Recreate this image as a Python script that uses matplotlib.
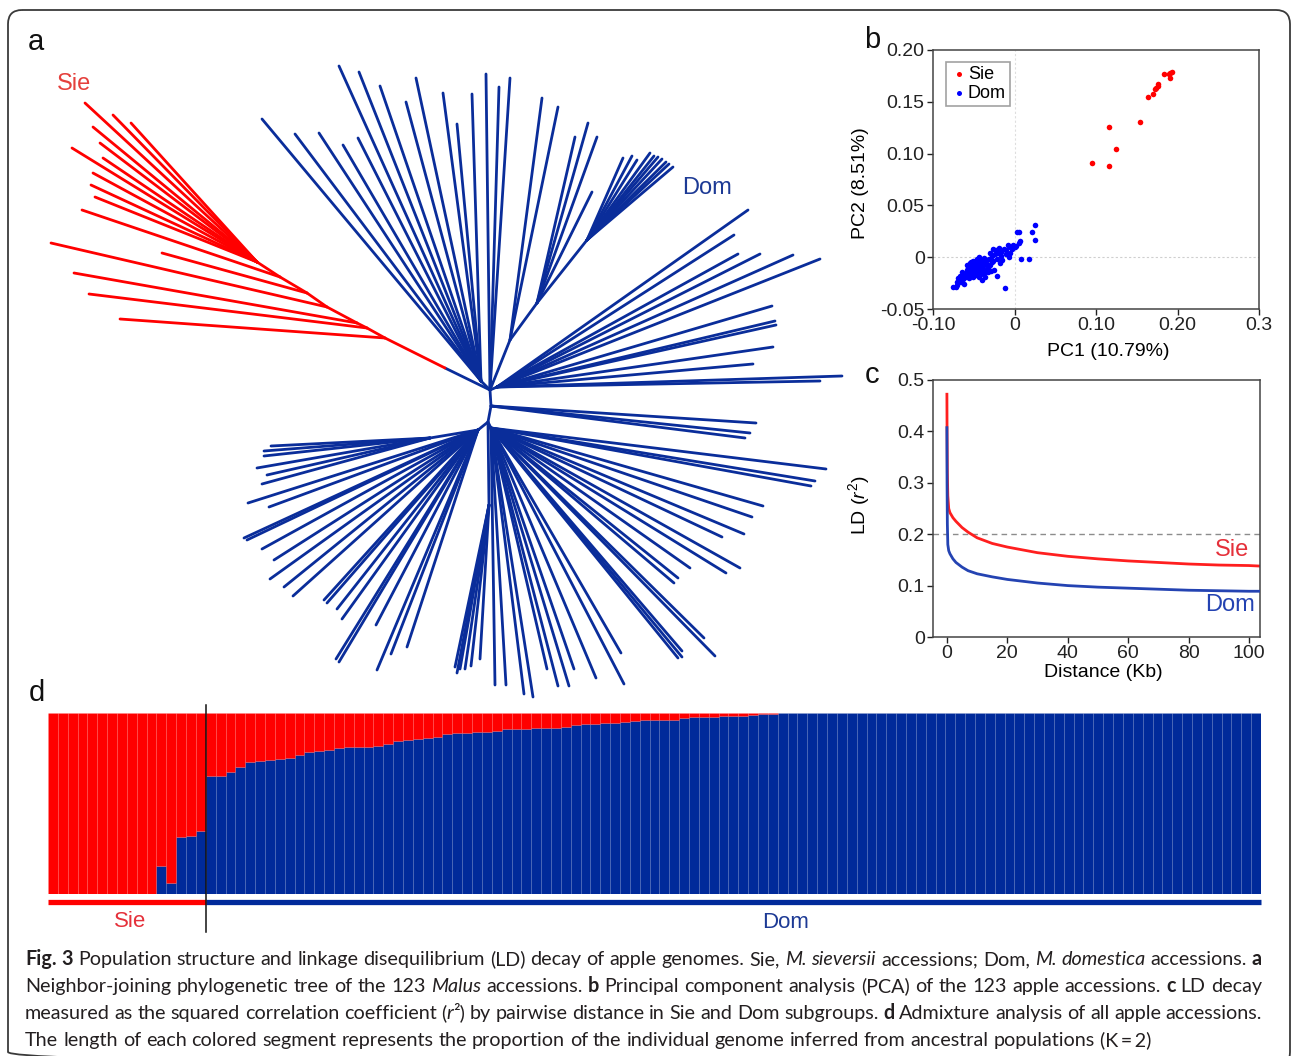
import numpy as np
import matplotlib
matplotlib.use('Agg')
import matplotlib.pyplot as plt
from matplotlib.collections import LineCollection
from matplotlib.patches import FancyBboxPatch

# ---------------- DATA ----------------
# (a) neighbour-joining tree (layout coordinates of the drawn tree)
TREE_NODES = [  # name, x, y, parent, group
    ('U', 490, 390, None, 'dom'),
    ('Mid', 491, 406, 'U', 'dom'),
    ('L', 488, 422, 'Mid', 'dom'),
    ('r0', 445, 368, 'U', 'dom'),
    ('r1', 385, 338, 'r0', 'sie'),
    ('r2', 367, 328, 'r1', 'sie'),
    ('r3', 357, 323, 'r2', 'sie'),
    ('r4', 327, 307, 'r3', 'sie'),
    ('r5', 307, 293, 'r4', 'sie'),
    ('r6', 280, 277, 'r5', 'sie'),
    ('r7', 257, 262, 'r6', 'sie'),
    ('bUL', 481, 381, 'U', 'dom'),
    ('bM1', 510, 340, 'U', 'dom'),
    ('bM2', 537, 303, 'bM1', 'dom'),
    ('bF', 587, 240, 'bM2', 'dom'),
    ('bR', 497, 387, 'U', 'dom'),
    ('bLR', 491, 428, 'L', 'dom'),
    ('bMD', 489, 505, 'L', 'dom'),
    ('bLL', 478, 430, 'L', 'dom'),
    ('bLL1', 430, 438, 'bLL', 'dom'),
]
SIE_TIPS = [
    (120, 319, 'r1'), (89, 294, 'r2'), (74, 273, 'r3'), (51, 243, 'r4'),
    (162, 253, 'r5'), (82, 210, 'r6'),
    (85, 103, 'r7'), (113, 115, 'r7'), (131, 123, 'r7'), (93, 127, 'r7'),
    (100, 143, 'r7'), (72, 148, 'r7'), (103, 158, 'r7'), (93, 173, 'r7'),
    (91, 185, 'r7'), (95, 197, 'r7'),
]
DOM_TIPS = [
    (262, 119, 'bUL'), (339, 66, 'bUL'), (359, 72, 'bUL'), (380, 86, 'bUL'),
    (416, 78, 'bUL'), (406, 102, 'bUL'), (443, 93, 'bUL'), (457, 124, 'bUL'),
    (472, 94, 'bUL'), (295, 134, 'bUL'), (319, 133, 'bUL'), (343, 145, 'bUL'),
    (358, 138, 'bUL'),
    (486, 74, 'U'), (499, 87, 'U'), (510, 78, 'U'),
    (542, 98, 'bM1'), (558, 107, 'bM1'),
    (575, 137, 'bM2'), (588, 123, 'bM2'), (597, 137, 'bM2'), (592, 192, 'bM2'),
    (623, 158, 'bF'), (632, 156, 'bF'), (637, 160, 'bF'), (650, 153, 'bF'),
    (654, 156, 'bF'), (658, 157, 'bF'), (662, 159, 'bF'), (666, 162, 'bF'),
    (669, 164, 'bF'), (673, 167, 'bF'),
    (748, 210, 'bR'), (734, 235, 'bR'), (738, 254, 'bR'), (760, 254, 'bR'),
    (793, 255, 'bR'), (820, 259, 'bR'), (772, 306, 'bR'), (775, 321, 'bR'),
    (776, 325, 'bR'), (773, 347, 'bR'), (753, 364, 'bR'), (842, 376, 'bR'),
    (820, 381, 'bR'),
    (756, 423, 'Mid'), (750, 433, 'Mid'), (745, 438, 'Mid'),
    (826, 469, 'bLR'), (815, 481, 'bLR'), (811, 486, 'bLR'), (763, 506, 'bLR'),
    (752, 517, 'bLR'), (744, 534, 'bLR'), (722, 537, 'bLR'), (740, 568, 'bLR'),
    (726, 573, 'bLR'), (690, 568, 'bLR'), (678, 578, 'bLR'), (674, 583, 'bLR'),
    (704, 638, 'bLR'), (715, 656, 'bLR'), (682, 651, 'bLR'), (682, 657, 'bLR'),
    (678, 658, 'bLR'), (621, 653, 'bLR'), (624, 684, 'bLR'), (596, 678, 'bLR'),
    (574, 669, 'bLR'), (569, 686, 'bLR'), (558, 686, 'bLR'), (547, 669, 'bLR'),
    (533, 697, 'bLR'), (524, 694, 'bLR'), (506, 685, 'bLR'), (495, 685, 'bLR'),
    (480, 659, 'bMD'), (471, 666, 'bMD'), (465, 669, 'bMD'), (460, 669, 'bMD'),
    (457, 673, 'bMD'), (455, 667, 'bMD'),
    (407, 647, 'bLL'), (391, 654, 'bLL'), (377, 670, 'bLL'), (376, 625, 'bLL'),
    (342, 619, 'bLL'), (337, 609, 'bLL'), (327, 603, 'bLL'), (324, 600, 'bLL'),
    (339, 662, 'bLL'), (336, 659, 'bLL'), (293, 596, 'bLL'), (284, 587, 'bLL'),
    (270, 579, 'bLL'), (274, 560, 'bLL'), (262, 549, 'bLL'), (247, 540, 'bLL'),
    (244, 538, 'bLL'), (269, 507, 'bLL'), (248, 503, 'bLL'),
    (262, 484, 'bLL1'), (267, 475, 'bLL1'), (257, 468, 'bLL1'), (264, 456, 'bLL1'),
    (264, 451, 'bLL1'), (271, 446, 'bLL1'),
]

# (b) PCA
SIE_PC1 = [0.0945, 0.1154, 0.1154, 0.1244, 0.1544, 0.1638, 0.1696, 0.1728,
           0.1737, 0.1757, 0.1765, 0.1839, 0.1893, 0.1913, 0.1910, 0.1934]
SIE_PC2 = [0.0907, 0.0882, 0.1261, 0.1049, 0.1309, 0.1550, 0.1573, 0.1621,
           0.1630, 0.1656, 0.1672, 0.1765, 0.1765, 0.1733, 0.1780, 0.1785]
DOM_PC1 = [-0.075, -0.072, -0.070, -0.071, -0.068, -0.066, -0.065, -0.067, -0.063, -0.062,
           -0.064, -0.060, -0.060, -0.058, -0.058, -0.057, -0.056, -0.055, -0.055, -0.054,
           -0.053, -0.053, -0.052, -0.052, -0.051, -0.050, -0.050, -0.049, -0.049, -0.048,
           -0.048, -0.047, -0.047, -0.046, -0.046, -0.045, -0.045, -0.044, -0.044, -0.043,
           -0.043, -0.042, -0.042, -0.041, -0.040, -0.040, -0.039, -0.038, -0.038, -0.037,
           -0.036, -0.035, -0.034, -0.033, -0.032, -0.031, -0.030, -0.030, -0.028, -0.027,
           -0.026, -0.025, -0.024, -0.023, -0.022, -0.021, -0.020, -0.019, -0.018, -0.017,
           -0.016, -0.015, -0.013, -0.012, -0.011, -0.010, -0.008, -0.007, -0.006, -0.005,
           -0.003, -0.002, 0.000, 0.002, 0.003, 0.005, 0.006, 0.007, 0.008, 0.018,
           0.021, 0.025, 0.025, -0.058, -0.056, -0.062, -0.069, -0.054, -0.051, -0.047,
           -0.041, -0.036, -0.033, -0.029, -0.026, -0.044, -0.039]
DOM_PC2 = [-0.029, -0.029, -0.027, -0.024, -0.022, -0.024, -0.020, -0.018, -0.021, -0.017,
           -0.014, -0.019, -0.015, -0.012, -0.017, -0.010, -0.014, -0.008, -0.012, -0.016,
           -0.005, -0.010, -0.013, -0.007, -0.004, -0.010, -0.015, -0.007, -0.012, -0.004,
           -0.009, -0.013, -0.006, -0.002, -0.010, -0.007, -0.015, -0.004, -0.011, -0.008,
           -0.019, -0.003, -0.013, -0.006, -0.010, -0.022, -0.004, -0.008, -0.015, -0.001,
           -0.006, -0.012, -0.003, -0.008, -0.014, -0.002, 0.004, -0.008, 0.001, -0.005,
           0.008, -0.012, 0.003, 0.007, -0.002, -0.018, 0.004, 0.009, -0.006, 0.001,
           0.005, -0.003, 0.008, -0.030, 0.003, 0.007, 0.012, 0.000, 0.010, 0.004,
           0.008, 0.012, 0.010, 0.011, 0.024, 0.014, 0.024, 0.016, -0.002, -0.002,
           0.024, 0.031, 0.017, -0.008, -0.020, -0.026, -0.020, -0.006, -0.019, -0.017,
           -0.016, -0.019, -0.010, -0.013, -0.004, 0.000, -0.012]
PCA_XTICKS = [-0.10, 0.0, 0.10, 0.20, 0.30]
PCA_XTICKLABELS = ['-0.10', '0', '0.10', '0.20', '0.3']
PCA_YTICKS = [-0.05, 0.0, 0.05, 0.10, 0.15, 0.20]
PCA_YTICKLABELS = ['-0.05', '0', '0.05', '0.10', '0.15', '0.20']

# (c) LD decay
SIE_DIST = [0, 0.05, 0.15, 0.3, 0.6, 1, 2, 3, 5, 7, 10, 15, 20, 30, 40, 50, 60, 70, 80, 90, 100, 103.6]
SIE_R2 = [0.475, 0.40, 0.32, 0.275, 0.25, 0.242, 0.232, 0.225, 0.213, 0.204, 0.193, 0.182,
          0.175, 0.164, 0.157, 0.152, 0.148, 0.145, 0.142, 0.140, 0.139, 0.138]
DOM_DIST = [0, 0.05, 0.15, 0.3, 0.6, 1, 2, 3, 5, 7, 10, 15, 20, 30, 40, 50, 60, 70, 80, 90, 100, 103.6]
DOM_R2 = [0.41, 0.30, 0.22, 0.18, 0.168, 0.162, 0.152, 0.145, 0.136, 0.129, 0.123, 0.117,
          0.112, 0.105, 0.100, 0.097, 0.095, 0.093, 0.091, 0.090, 0.089, 0.089]
LD_XTICKS = [0, 20, 40, 60, 80, 100]
LD_YTICKS = [0, 0.1, 0.2, 0.3, 0.4, 0.5]
LD_YTICKLABELS = ['0', '0.1', '0.2', '0.3', '0.4', '0.5']

# (d) admixture: Dom ancestry proportion for the 123 accessions (16 Sie + 107 Dom)
N_SIE = 16
DOM_ANCESTRY = [
    0, 0, 0, 0, 0, 0, 0, 0, 0, 0, 0, 0.157, 0.063, 0.317, 0.323, 0.349,
    0.653, 0.653, 0.672, 0.701, 0.732, 0.736, 0.742, 0.745, 0.749, 0.768,
    0.784, 0.788, 0.797, 0.806, 0.810, 0.812, 0.812, 0.819, 0.828, 0.845,
    0.851, 0.858, 0.862, 0.867, 0.882, 0.887, 0.887, 0.895, 0.897, 0.900,
    0.910, 0.911, 0.913, 0.915, 0.917, 0.919, 0.922, 0.934, 0.939, 0.939,
    0.945, 0.946, 0.952, 0.958, 0.961, 0.961, 0.963, 0.963, 0.970, 0.976,
    0.978, 0.980, 0.983, 0.983, 0.985, 0.991, 0.993, 0.994, 0.998,
    1.0, 1.0, 1.0, 1.0, 1.0, 1.0, 1.0, 1.0, 1.0, 1.0, 1.0, 1.0,
    1.0, 1.0, 1.0, 1.0, 1.0, 1.0, 1.0, 1.0, 1.0, 1.0, 1.0, 1.0,
    1.0, 1.0, 1.0, 1.0, 1.0, 1.0, 1.0, 1.0, 1.0, 1.0, 1.0, 1.0,
    1.0, 1.0, 1.0, 1.0, 1.0, 1.0, 1.0, 1.0, 1.0, 1.0, 1.0, 1.0,
]

CAPTION_RUNS = [
    [("Fig. 3", 'b'), (" Population structure and linkage disequilibrium (LD) decay of apple genomes. Sie, ", 'n'),
     ("M. sieversii", 'i'), (" accessions; Dom, ", 'n'), ("M. domestica", 'i'), (" accessions. ", 'n'), ("a", 'b')],
    [("Neighbor-joining phylogenetic tree of the 123 ", 'n'), ("Malus", 'i'), (" accessions. ", 'n'), ("b", 'b'),
     (" Principal component analysis (PCA) of the 123 apple accessions. ", 'n'), ("c", 'b'), (" LD decay", 'n')],
    [("measured as the squared correlation coefficient (", 'n'), ("r", 'i'),
     ("\u00b2) by pairwise distance in Sie and Dom subgroups. ", 'n'), ("d", 'b'),
     (" Admixture analysis of all apple accessions.", 'n')],
    [("The length of each colored segment represents the proportion of the individual genome inferred from ancestral populations (K\u2009=\u20092)", 'n')],
]

# ---------------- STYLE ----------------
W, H = 1293, 1056
RED = '#ff0000'
TREE_BLUE = '#0a2d9a'
ADM_BLUE = '#002a9a'
plt.rcParams['font.family'] = ['Liberation Sans', 'DejaVu Sans']
plt.rcParams['mathtext.fontset'] = 'custom'
plt.rcParams['mathtext.rm'] = 'Liberation Sans'
plt.rcParams['mathtext.it'] = 'Liberation Sans:italic'
plt.rcParams['axes.linewidth'] = 1.0

fig = plt.figure(figsize=(W / 100, H / 100), dpi=100)


def px_axes(x0, y0, x1, y1, **kw):
    return fig.add_axes([x0 / W, 1 - y1 / H, (x1 - x0) / W, (y1 - y0) / H], **kw)


bg = fig.add_axes([0, 0, 1, 1], zorder=0)
bg.set_xlim(0, W)
bg.set_ylim(H, 0)
bg.axis('off')

# border
bg.add_patch(FancyBboxPatch((8, 10), 1282, 1056, boxstyle='round,pad=0,rounding_size=14',
                            fc='none', ec='#3a3a3a', lw=1.3, clip_on=False))

# ---------------- (a) tree ----------------
nodes = {n[0]: (n[1], n[2]) for n in TREE_NODES}
segs, cols = [], []
for name, x, y, parent, grp in TREE_NODES:
    if parent is None:
        continue
    segs.append([nodes[parent], (x, y)])
    cols.append(RED if grp == 'sie' else TREE_BLUE)
for x, y, p in SIE_TIPS:
    segs.append([nodes[p], (x, y)])
    cols.append(RED)
for x, y, p in DOM_TIPS:
    segs.append([nodes[p], (x, y)])
    cols.append(TREE_BLUE)
bg.add_collection(LineCollection(segs, colors=cols, linewidths=2.0, capstyle='round'))
bg.text(74, 84, 'Sie', color='#e5403c', fontsize=17, ha='center', va='center')
bg.text(707, 188, 'Dom', color='#1d3a95', fontsize=17, ha='center', va='center')

# panel letters
for lab, (lx, ly) in {'a': (36, 42), 'b': (872, 40), 'c': (872, 375), 'd': (37, 693)}.items():
    bg.text(lx, ly, lab, fontsize=21, ha='center', va='center', color='#111111')

# ---------------- (b) PCA ----------------
axb = px_axes(933, 50, 1259, 309, zorder=2)
axb.axhline(0, color='#cfcfcf', lw=0.8, ls=(0, (2, 2)), zorder=0)
axb.axvline(0, color='#dedede', lw=0.8, ls=(0, (2, 2)), zorder=0)
axb.scatter(SIE_PC1, SIE_PC2, s=16, c=RED, lw=0, label='Sie', zorder=3)
axb.scatter(DOM_PC1, DOM_PC2, s=16, c='#0000ff', lw=0, label='Dom', zorder=3)
axb.set_xlim(-0.1, 0.3)
axb.set_ylim(-0.05, 0.2)
axb.set_xticks(PCA_XTICKS)
axb.set_xticklabels(PCA_XTICKLABELS)
axb.set_yticks(PCA_YTICKS)
axb.set_yticklabels(PCA_YTICKLABELS)
axb.set_xlabel('PC1 (10.79%)', fontsize=14)
axb.set_ylabel('PC2 (8.51%)', fontsize=14)
axb.xaxis.set_label_coords(0.537, -0.13)
axb.yaxis.set_label_coords(-0.196, 0.486)
leg = axb.legend(loc='upper left', bbox_to_anchor=(0.04, 0.955), borderaxespad=0, frameon=True,
                 fancybox=False, edgecolor='#8a8a8a', fontsize=13, handletextpad=0.05,
                 borderpad=0.25, labelspacing=0.1, handlelength=0.9, markerscale=0.9)
leg.get_frame().set_linewidth(1.2)

# ---------------- (c) LD decay ----------------
axc = px_axes(933, 380, 1260, 637, zorder=2)
axc.axhline(0.2, color='#8c8c8c', lw=1.0, ls=(0, (4, 3)), zorder=1)
axc.plot(SIE_DIST, SIE_R2, color='#ff1f1f', lw=2.0, zorder=2, solid_capstyle='butt')
axc.plot(DOM_DIST, DOM_R2, color='#2443b2', lw=2.0, zorder=3, solid_capstyle='butt')
axc.set_xlim(-4.6, 103.6)
axc.set_ylim(0, 0.5)
axc.set_xticks(LD_XTICKS)
axc.set_yticks(LD_YTICKS)
axc.set_yticklabels(LD_YTICKLABELS)
axc.set_xlabel('Distance (Kb)', fontsize=14)
axc.set_ylabel('LD ($\\mathit{r}^2$)', fontsize=14)
axc.xaxis.set_label_coords(0.52, -0.105)
axc.yaxis.set_label_coords(-0.187, 0.514)
axc.text(94.4, 0.169, 'Sie', color='#e5303a', fontsize=17, ha='center', va='center')
axc.text(93.7, 0.062, 'Dom', color='#2443b2', fontsize=17, ha='center', va='center')

for ax in (axb, axc):
    for sp in ax.spines.values():
        sp.set_color('#444444')
        sp.set_linewidth(1.1)
    ax.tick_params(direction='out', length=4, width=1, labelsize=14, pad=2, colors='#222222')

# ---------------- (d) admixture ----------------
axd = px_axes(48, 713, 1261, 894, zorder=2)
dom = np.array(DOM_ANCESTRY)
xs = np.arange(len(dom)) + 0.5
axd.bar(xs, dom, width=1.0, color=ADM_BLUE, edgecolor=(1, 1, 1, 0.05), linewidth=0.5)
axd.bar(xs, 1 - dom, bottom=dom, width=1.0, color=RED, edgecolor=(1, 1, 1, 0.06), linewidth=0.5)
axd.set_xlim(0, len(dom))
axd.set_ylim(0, 1)
axd.axis('off')
axd.plot([0, N_SIE], [-0.044, -0.044], color=RED, lw=3.8, clip_on=False, solid_capstyle='butt')
axd.plot([N_SIE, len(dom)], [-0.044, -0.044], color=ADM_BLUE, lw=3.8, clip_on=False, solid_capstyle='butt')
axd.plot([N_SIE, N_SIE], [1.045, -0.21], color='#111111', lw=1.1, clip_on=False)
axd.text(N_SIE / 2 + 0.3, -0.15, 'Sie', color='#e5303a', fontsize=16, ha='center', va='center')
axd.text(74.8, -0.155, 'Dom', color='#1d3a95', fontsize=16, ha='center', va='center')

# ---------------- caption ----------------
STY = {'n': dict(), 'b': dict(weight='bold'), 'i': dict(style='italic')}
CAP_FONT = ['Lato', 'DejaVu Sans']
renderer = fig.canvas.get_renderer()


def split_words(runs):
    words, cur = [], []
    for text, st in runs:
        parts = text.split(' ')
        for i, p in enumerate(parts):
            if i > 0 and cur:
                words.append(cur)
                cur = []
            if p:
                cur.append((p, st))
    if cur:
        words.append(cur)
    return words


def measure(s, st, size):
    t = fig.text(0, 0, s, fontsize=size, family=CAP_FONT, **STY[st])
    w = t.get_window_extent(renderer).width
    t.remove()
    return w


def word_width(word, size):
    return sum(measure(s, st, size) for s, st in word)


base = 14.0
lines = [split_words(r) for r in CAPTION_RUNS]
sp = measure('a a', 'n', base) - measure('aa', 'n', base)
nat = sum(word_width(w, base) for w in lines[3]) + sp * (len(lines[3]) - 1)
size = base * 1131.0 / nat
sp = measure('a a', 'n', size) - measure('aa', 'n', size)

X0, X1 = 25, 1262
baselines = [965, 992, 1019, 1046]
for li, words in enumerate(lines):
    widths = [word_width(w, size) for w in words]
    if li < 3:
        gap = (X1 - X0 - sum(widths)) / (len(words) - 1)
    else:
        gap = sp
    x = X0
    for w, ww in zip(words, widths):
        xx = x
        for s, st in w:
            fig.text(xx / W, 1 - baselines[li] / H, s, fontsize=size, family=CAP_FONT,
                     ha='left', va='baseline', color='#231f20', **STY[st])
            xx += measure(s, st, size)
        x += ww + gap

fig.savefig('out.png', dpi=100)
